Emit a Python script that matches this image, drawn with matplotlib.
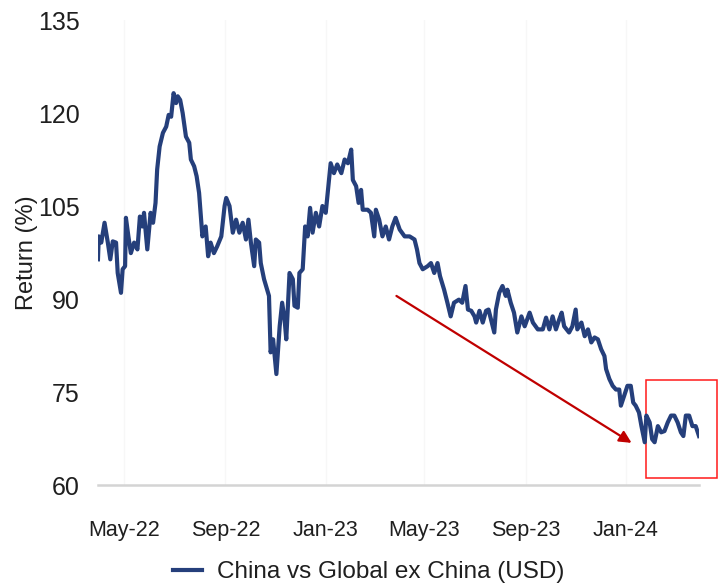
import matplotlib
matplotlib.use('Agg')

import matplotlib.pyplot as plt
import matplotlib.dates as mdates
import pandas as pd

plt.rcParams['font.family'] = ['Liberation Sans', 'DejaVu Sans']

# relative return, China vs Global ex China (USD), 2022-2024
dates = [
    "2022-03-30", "2022-03-31", "2022-04-03", "2022-04-07", "2022-04-11", "2022-04-14",
    "2022-04-17", "2022-04-21", "2022-04-23", "2022-04-27", "2022-04-29", "2022-05-02",
    "2022-05-03", "2022-05-06", "2022-05-09", "2022-05-13", "2022-05-17", "2022-05-20",
    "2022-05-23", "2022-05-25", "2022-05-29", "2022-06-02", "2022-06-05", "2022-06-08",
    "2022-06-10", "2022-06-13", "2022-06-17", "2022-06-21", "2022-06-24", "2022-06-27",
    "2022-06-30", "2022-07-03", "2022-07-05", "2022-07-08", "2022-07-11", "2022-07-15",
    "2022-07-19", "2022-07-21", "2022-07-25", "2022-07-28", "2022-07-31", "2022-08-04",
    "2022-08-08", "2022-08-11", "2022-08-14", "2022-08-18", "2022-08-22", "2022-08-27",
    "2022-08-31", "2022-09-02", "2022-09-06", "2022-09-10", "2022-09-14", "2022-09-18",
    "2022-09-22", "2022-09-26", "2022-09-29", "2022-10-02", "2022-10-06", "2022-10-08",
    "2022-10-12", "2022-10-14", "2022-10-18", "2022-10-24", "2022-10-26", "2022-10-29",
    "2022-11-02", "2022-11-06", "2022-11-09", "2022-11-12", "2022-11-14", "2022-11-18",
    "2022-11-22", "2022-11-24", "2022-11-28", "2022-11-30", "2022-12-04", "2022-12-07",
    "2022-12-10", "2022-12-13", "2022-12-16", "2022-12-20", "2022-12-24", "2022-12-28",
    "2023-01-01", "2023-01-05", "2023-01-07", "2023-01-11", "2023-01-15", "2023-01-20",
    "2023-01-24", "2023-01-28", "2023-02-01", "2023-02-03", "2023-02-07", "2023-02-10",
    "2023-02-13", "2023-02-15", "2023-02-21", "2023-02-25", "2023-03-01", "2023-03-03",
    "2023-03-07", "2023-03-11", "2023-03-15", "2023-03-19", "2023-03-23", "2023-03-27",
    "2023-04-01", "2023-04-07", "2023-04-13", "2023-04-19", "2023-04-22", "2023-04-25",
    "2023-04-29", "2023-05-05", "2023-05-09", "2023-05-13", "2023-05-17", "2023-05-20",
    "2023-05-25", "2023-05-29", "2023-06-02", "2023-06-06", "2023-06-12", "2023-06-16",
    "2023-06-20", "2023-06-23", "2023-06-27", "2023-07-01", "2023-07-03", "2023-07-07",
    "2023-07-11", "2023-07-15", "2023-07-18", "2023-07-21", "2023-07-25", "2023-07-27",
    "2023-07-31", "2023-08-04", "2023-08-08", "2023-08-10", "2023-08-14", "2023-08-18",
    "2023-08-22", "2023-08-27", "2023-08-31", "2023-09-06", "2023-09-10", "2023-09-16",
    "2023-09-22", "2023-09-26", "2023-09-30", "2023-10-04", "2023-10-08", "2023-10-12",
    "2023-10-15", "2023-10-18", "2023-10-24", "2023-10-28", "2023-11-01", "2023-11-03",
    "2023-11-08", "2023-11-12", "2023-11-16", "2023-11-20", "2023-11-24", "2023-11-28",
    "2023-12-02", "2023-12-06", "2023-12-08", "2023-12-12", "2023-12-16", "2023-12-20",
    "2023-12-24", "2023-12-26", "2023-12-30", "2024-01-03", "2024-01-07", "2024-01-10",
    "2024-01-13", "2024-01-17", "2024-01-20", "2024-01-24", "2024-01-26", "2024-01-30",
    "2024-02-02", "2024-02-05", "2024-02-09", "2024-02-13", "2024-02-17", "2024-02-21",
    "2024-02-25", "2024-02-29", "2024-03-04", "2024-03-08", "2024-03-11", "2024-03-14",
    "2024-03-18", "2024-03-22", "2024-03-26", "2024-03-30",
]
returns = [
    96.4, 100.1, 99.1, 102.3, 99.1, 96.4,
    99.3, 99.1, 94.2, 91.0, 94.8, 95.3,
    103.1, 100.1, 97.4, 99.1, 98.0, 103.3,
    101.7, 103.9, 98.0, 103.9, 102.3, 105.5,
    110.9, 114.6, 116.8, 117.8, 119.7, 119.4,
    123.2, 121.6, 122.7, 122.1, 120.0, 116.2,
    115.2, 112.5, 111.4, 109.8, 107.1, 100.1,
    101.7, 96.9, 99.1, 97.4, 98.5, 100.1,
    105.0, 106.3, 105.0, 100.7, 102.8, 100.7,
    102.3, 99.6, 102.8, 99.1, 95.3, 99.6,
    99.1, 95.8, 93.2, 90.5, 81.4, 83.5,
    77.9, 85.6, 89.4, 86.7, 83.5, 94.2,
    93.2, 88.9, 88.6, 94.2, 94.8, 101.7,
    100.1, 104.7, 100.7, 103.9, 101.7, 105.0,
    103.9, 109.2, 111.9, 110.3, 111.7, 110.3,
    112.5, 111.9, 114.1, 109.2, 108.2, 105.5,
    107.6, 104.4, 104.4, 103.9, 100.1, 104.4,
    102.8, 100.1, 101.7, 99.6, 101.7, 103.1,
    101.2, 100.1, 100.1, 99.6, 98.0, 95.8,
    94.8, 95.3, 95.8, 94.2, 95.8, 93.7,
    91.5, 89.4, 87.2, 89.4, 89.9, 89.4,
    92.1, 88.3, 88.1, 87.2, 86.2, 88.1,
    86.2, 88.1, 88.3, 86.7, 84.6, 88.3,
    91.0, 92.1, 90.5, 91.5, 89.4, 87.8,
    84.6, 87.2, 85.6, 87.8, 86.2, 85.1,
    85.1, 87.0, 85.1, 87.2, 85.1, 86.7,
    87.8, 85.6, 84.6, 85.6, 88.3, 85.1,
    86.2, 84.0, 85.1, 83.0, 83.8, 83.5,
    81.9, 80.8, 78.7, 77.1, 76.0, 75.4,
    75.4, 72.8, 74.4, 76.0, 76.0, 73.3,
    72.8, 71.7, 69.5, 66.9, 71.2, 70.1,
    67.4, 66.9, 69.5, 68.5, 68.7, 70.1,
    71.2, 71.2, 70.1, 68.5, 67.9, 71.2,
    71.2, 69.5, 69.5, 67.9,
]

y_ticks = [60, 75, 90, 105, 120, 135]
x_ticks = ["2022-05-01", "2022-09-01", "2023-01-01", "2023-05-01", "2023-09-01", "2024-01-01"]

# trend arrow and highlight box (data coordinates)
arrow_start = ("2023-03-28", 90.5)
arrow_end = ("2024-01-08", 66.8)
box_x = ("2024-01-26", "2024-04-21")
box_y = (61.1, 76.9)

navy = '#253f7b'
text_color = '#1f1f1f'

df = pd.DataFrame({'Date': pd.to_datetime(dates), 'Return': returns})

fig = plt.figure(figsize=(7.23, 5.85), dpi=100)
ax = fig.add_axes([0.1355, 0.1709, 0.8313, 0.7949])

ax.plot(df['Date'], df['Return'], color=navy, linewidth=3.0,
        solid_joinstyle='round', label='China vs Global ex China (USD)')

ax.set_xlim(df['Date'].iloc[0], df['Date'].iloc[-1])
ax.set_ylim(60, 135)
ax.set_yticks(y_ticks)
ax.set_xticks(pd.to_datetime(x_ticks))
ax.xaxis.set_major_formatter(mdates.DateFormatter('%b-%y'))

ax.grid(axis='x', color='#f7f7f7', linewidth=1.0)
ax.set_axisbelow(True)

for side in ['top', 'right', 'left']:
    ax.spines[side].set_visible(False)
ax.spines['bottom'].set_color('#d4d4d4')
ax.spines['bottom'].set_linewidth(1.8)

ax.tick_params(axis='y', length=0, pad=13, labelsize=18, labelcolor=text_color)
ax.tick_params(axis='x', length=0, pad=25, labelsize=15.5, labelcolor=text_color)
ax.set_ylabel('Return (%)', fontsize=17, color=text_color)
ax.yaxis.set_label_coords(-0.1, 0.5)

# red trend arrow
ax.annotate('', xy=(pd.Timestamp(arrow_end[0]), arrow_end[1]),
            xytext=(pd.Timestamp(arrow_start[0]), arrow_start[1]),
            arrowprops=dict(arrowstyle='-|>', color='#c00000', lw=1.6,
                            mutation_scale=18, shrinkA=0, shrinkB=0))

# box around the latest period
x0 = mdates.date2num(pd.Timestamp(box_x[0]))
x1 = mdates.date2num(pd.Timestamp(box_x[1]))
rect = plt.Rectangle((x0, box_y[0]), x1 - x0, box_y[1] - box_y[0],
                     fill=False, edgecolor='#ff1a1a', linewidth=1.1, clip_on=False)
ax.add_patch(rect)

fig.legend(loc='center', bbox_to_anchor=(0.51, 0.022), frameon=False,
           fontsize=17.5, handlelength=1.2, handletextpad=0.6,
           labelcolor=text_color)

plt.savefig('out.png', dpi=100)
plt.close()
